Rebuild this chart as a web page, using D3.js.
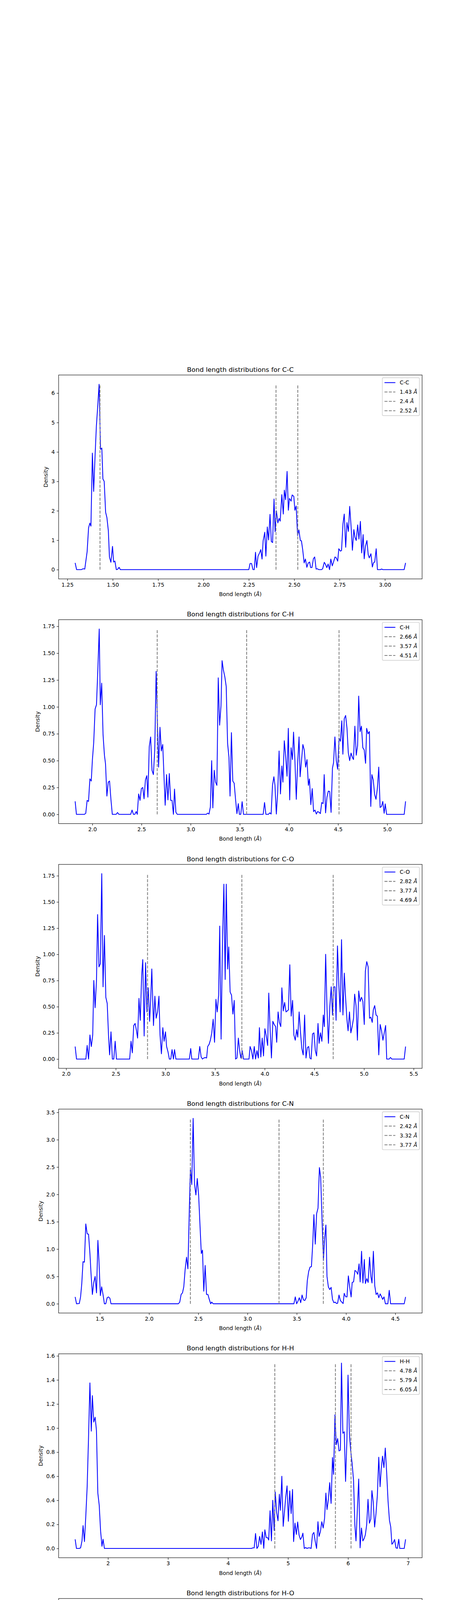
<!DOCTYPE html>
<html>
<head>
<meta charset="utf-8">
<script src="https://cdn.jsdelivr.net/npm/d3@7"></script>
<style>
  html, body { margin: 0; padding: 0; background: #fff; width: 1200px; height: 8000px; overflow: hidden; }
  svg { display: block; }
  text { font-family: "DejaVu Sans", sans-serif; }
</style>
</head>
<body>
<svg id="fig" width="1200" height="8000" viewBox="0 0 1200 8000"></svg>
<script>
// pair names and the reference distances drawn as dashed lines
const pairs = ["C-C", "C-H", "C-O", "C-N", "H-H", "H-O", "H-N", "O-O", "O-N", "N-N"];
const refLengths = [
  [1.43, 2.4, 2.52], [2.66, 3.57, 4.51], [2.82, 3.77, 4.69], [2.42, 3.32, 3.77], [4.78, 5.79, 6.05],
  [3.54, 4.28, 6.65], [2.58, 4.23, 5.69], [4.96, 6.09, 6.46], [2.66, 4.4, 5.94], [2.91, 4.79, 4.98]
];
// tick spacing / label format per panel (matplotlib auto ticks)
const xTickStep = [0.25, 0.5, 0.5, 0.5, 1, 1, 1, 1, 1, 0.5];
const xTickFmt = [".2f", ".1f", ".1f", ".1f", "d", "d", "d", "d", "d", ".1f"];
const yTickStep = [1, 0.25, 0.25, 0.5, 0.2, 0.2, 0.5, 0.5, 0.5, 0.5];
const yTickFmt = ["d", ".2f", ".2f", ".1f", ".1f", ".1f", ".1f", ".1f", ".1f", ".1f"];

// density curves, [bond length, density]
const ccData = [[1.293,0.23],[1.301,0],[1.327,0],[1.336,0.03],[1.346,0.02],[1.359,0.61],[1.367,1.42],[1.374,1.58],[1.380,1.48],[1.388,3.96],[1.395,2.66],[1.403,3.90],[1.410,4.88],[1.418,5.61],[1.425,6.30],[1.433,4.09],[1.440,4.13],[1.446,3.08],[1.453,3.00],[1.461,1.95],[1.468,1.77],[1.476,1.32],[1.482,0.43],[1.490,0.25],[1.499,0.79],[1.505,0.26],[1.512,0.29],[1.520,0],[1.527,0.01],[1.535,0.08],[1.542,0],[2.250,0],[2.257,0.21],[2.265,0.21],[2.273,0],[2.280,0],[2.287,0.59],[2.293,0.07],[2.301,0.46],[2.310,0.58],[2.316,0.68],[2.323,0.36],[2.329,0.98],[2.338,1.27],[2.344,0.46],[2.352,1.45],[2.359,1.01],[2.367,1.88],[2.374,0.96],[2.381,0.92],[2.389,2.40],[2.395,1.29],[2.402,2.00],[2.410,1.59],[2.417,1.74],[2.423,1.65],[2.432,2.55],[2.440,1.89],[2.446,2.70],[2.453,2.38],[2.461,3.34],[2.468,2.02],[2.474,2.42],[2.483,2.33],[2.489,2.54],[2.498,2.49],[2.504,2.02],[2.511,2.16],[2.519,1.16],[2.526,1.35],[2.534,0.99],[2.540,0.98],[2.547,0.68],[2.555,0.23],[2.562,0.36],[2.570,0.08],[2.577,0.22],[2.585,0.26],[2.591,0.07],[2.598,0.07],[2.606,0.37],[2.613,0.43],[2.621,0.02],[2.628,0.03],[2.636,0],[2.651,0],[2.657,0.03],[2.666,0.25],[2.672,0.19],[2.680,0.07],[2.687,0.19],[2.695,0],[2.702,0.36],[2.710,0.13],[2.717,0.26],[2.725,0.43],[2.732,0.40],[2.740,0.29],[2.746,0.71],[2.755,0.63],[2.761,0.65],[2.769,1.56],[2.776,1.89],[2.784,0.76],[2.791,1.60],[2.799,1.30],[2.806,2.15],[2.814,1.44],[2.821,0.66],[2.829,1.36],[2.835,1.10],[2.842,0.99],[2.850,1.52],[2.857,1.04],[2.865,1.64],[2.872,0.57],[2.880,1.19],[2.886,0.37],[2.893,0.80],[2.901,0.99],[2.908,0.51],[2.914,0.40],[2.923,0.54],[2.931,0.09],[2.937,0.23],[2.944,0.26],[2.952,0.71],[2.959,0],[2.975,0],[2.982,0.02],[2.989,0],[3.106,0],[3.114,0.23]];

const chData = [[1.825,0.121],[1.838,0],[1.919,0],[1.933,0.01],[1.947,0.13],[1.961,0.12],[1.975,0.33],[1.989,0.31],[2.000,0.50],[2.014,0.67],[2.028,0.98],[2.042,1.02],[2.056,1.35],[2.070,1.725],[2.081,1.02],[2.095,1.22],[2.109,0.74],[2.123,0.55],[2.134,0.47],[2.148,0.17],[2.162,0.30],[2.175,0.31],[2.189,0.14],[2.203,0],[2.242,0],[2.256,0.017],[2.270,0],[2.390,0],[2.404,0.04],[2.418,0],[2.432,0],[2.446,0.026],[2.457,0],[2.471,0.19],[2.485,0.13],[2.499,0.24],[2.513,0.25],[2.526,0.145],[2.540,0.32],[2.554,0.36],[2.565,0.16],[2.579,0.63],[2.593,0.72],[2.607,0.41],[2.621,0.37],[2.635,0.60],[2.649,1.33],[2.663,0.82],[2.674,0.44],[2.688,0.81],[2.702,0.59],[2.716,0.65],[2.730,0.33],[2.741,0.085],[2.755,0.37],[2.769,0.135],[2.783,0.38],[2.797,0.13],[2.811,0.13],[2.825,0],[2.836,0.235],[2.850,0.02],[2.864,0],[3.159,0],[3.173,0.011],[3.187,0.003],[3.201,0.07],[3.214,0.50],[3.226,0.06],[3.240,0.41],[3.253,0.30],[3.267,0.27],[3.281,1.27],[3.295,0.83],[3.309,1.01],[3.320,1.43],[3.334,1.34],[3.348,1.28],[3.362,1.19],[3.376,0.66],[3.390,0.53],[3.401,0.17],[3.415,0.76],[3.429,0.31],[3.443,0.29],[3.457,0.14],[3.471,0.007],[3.485,0.10],[3.496,0],[3.510,0],[3.524,0.118],[3.538,0],[3.738,0],[3.752,0.11],[3.766,0],[3.791,0],[3.805,0.014],[3.819,0.003],[3.833,0.27],[3.847,0.35],[3.858,0.27],[3.872,0.003],[3.886,0.21],[3.900,0.59],[3.914,0.19],[3.928,0.45],[3.939,0.30],[3.953,0.685],[3.967,0.54],[3.981,0.355],[3.994,0.80],[4.008,0.135],[4.022,0.62],[4.036,0.51],[4.047,0.765],[4.061,0.50],[4.075,0.14],[4.089,0.48],[4.103,0.72],[4.114,0.35],[4.128,0.50],[4.142,0.65],[4.156,0.60],[4.170,0.44],[4.184,0.51],[4.198,0.27],[4.209,0.33],[4.223,0.09],[4.237,0.24],[4.251,0.026],[4.265,0.04],[4.279,0.003],[4.292,0.026],[4.306,0.02],[4.320,0.007],[4.334,0.11],[4.348,0.10],[4.359,0.37],[4.373,0.014],[4.387,0.16],[4.401,0.216],[4.415,0.213],[4.429,0.018],[4.443,0.43],[4.454,0.48],[4.468,0.72],[4.482,0.50],[4.496,0.42],[4.510,0.71],[4.524,0.68],[4.538,0.87],[4.549,0.56],[4.563,0.89],[4.577,0.92],[4.591,0.80],[4.604,0.575],[4.618,0.50],[4.632,0.57],[4.646,0.53],[4.657,0.51],[4.671,0.82],[4.685,0.55],[4.699,0.64],[4.710,1.10],[4.724,0.77],[4.738,0.82],[4.752,0.62],[4.766,0.60],[4.780,0.475],[4.791,0.80],[4.805,0.75],[4.819,0.77],[4.833,0.074],[4.844,0.37],[4.858,0.32],[4.872,0.185],[4.886,0.14],[4.900,0.24],[4.914,0.44],[4.928,0.064],[4.942,0.074],[4.955,0.12],[4.969,0.01],[4.980,0.097],[4.994,0],[5.173,0],[5.187,0.121]];

const coData = [[2.091,0.12],[2.105,0],[2.199,0],[2.212,0.13],[2.226,0],[2.240,0.23],[2.254,0.12],[2.268,0.23],[2.279,0.75],[2.292,0.49],[2.306,0.75],[2.317,1.38],[2.331,0.88],[2.345,0.91],[2.359,1.77],[2.372,0.69],[2.386,1.18],[2.400,0.59],[2.414,0.53],[2.427,0.23],[2.438,0.04],[2.452,0.26],[2.466,0],[2.480,0],[2.494,0.17],[2.507,0],[2.640,0],[2.654,0.17],[2.667,0.06],[2.681,0.32],[2.695,0.34],[2.709,0.27],[2.720,0.20],[2.734,0.58],[2.747,0.37],[2.761,0.80],[2.772,0.95],[2.786,0.22],[2.800,0.92],[2.814,0.45],[2.827,0.68],[2.841,0.36],[2.852,0.57],[2.863,0.86],[2.880,0.32],[2.894,0.60],[2.907,0.39],[2.921,0.45],[2.935,0.60],[2.946,0.23],[2.960,0.05],[2.974,0.30],[2.987,0.17],[3.001,0.26],[3.012,0.12],[3.026,0.07],[3.040,0],[3.054,0],[3.067,0.09],[3.081,0],[3.092,0.09],[3.106,0],[3.241,0],[3.255,0.10],[3.266,0],[3.332,0],[3.346,0.12],[3.360,0.02],[3.373,0],[3.387,0.01],[3.401,0.015],[3.415,0.01],[3.426,0.12],[3.440,0.14],[3.453,0.18],[3.467,0.25],[3.481,0.38],[3.495,0.16],[3.509,0.57],[3.522,0.45],[3.536,0.61],[3.547,1.27],[3.561,0.19],[3.575,1.12],[3.589,1.67],[3.602,0.76],[3.613,1.67],[3.627,0.86],[3.638,1.07],[3.652,0.64],[3.666,0.61],[3.680,0.43],[3.693,0.56],[3.707,0],[3.721,0.01],[3.735,0.20],[3.748,0.08],[3.760,0.01],[3.773,0.08],[3.787,0],[3.842,0],[3.853,0.12],[3.867,0.08],[3.881,0],[3.895,0.12],[3.908,0],[3.922,0.08],[3.936,0.01],[3.947,0.30],[3.961,0.02],[3.975,0.20],[3.988,0.03],[4.002,0.29],[4.016,0.22],[4.030,0.13],[4.041,0.63],[4.055,0.28],[4.068,0.01],[4.082,0.36],[4.096,0.33],[4.110,0.31],[4.121,0.16],[4.135,0.45],[4.148,0.35],[4.162,0.31],[4.173,0.68],[4.187,0.46],[4.201,0.54],[4.215,0.45],[4.228,0.46],[4.239,0.47],[4.253,0.90],[4.267,0.41],[4.281,0.56],[4.294,0.23],[4.308,0.18],[4.322,0.28],[4.333,0.21],[4.347,0.45],[4.361,0.25],[4.374,0.10],[4.388,0.04],[4.402,0.42],[4.416,0.01],[4.430,0.11],[4.443,0.12],[4.455,0.01],[4.468,0],[4.482,0.24],[4.496,0.25],[4.510,0.08],[4.523,0.03],[4.537,0.34],[4.548,0.15],[4.562,0.25],[4.576,0.17],[4.590,0.42],[4.601,0.31],[4.614,1.00],[4.628,0.47],[4.642,0.15],[4.656,0.50],[4.670,0.69],[4.683,0.42],[4.694,0.69],[4.708,0.69],[4.719,0.37],[4.733,1.08],[4.747,0.70],[4.760,0.45],[4.774,1.14],[4.788,0.42],[4.802,0.82],[4.815,0.58],[4.829,0.37],[4.840,0.27],[4.854,0.45],[4.868,0.25],[4.881,0.31],[4.895,0.39],[4.906,0.62],[4.920,0.51],[4.934,0.18],[4.947,0.65],[4.961,0.55],[4.975,0.59],[4.989,0.55],[5.003,0.33],[5.014,0.84],[5.028,0.93],[5.042,0.88],[5.056,0.39],[5.069,0.40],[5.083,0.35],[5.094,0.47],[5.108,0.51],[5.122,0.42],[5.135,0.41],[5.149,0.04],[5.163,0.33],[5.177,0.27],[5.191,0.18],[5.204,0.25],[5.218,0.32],[5.229,0],[5.254,0],[5.267,0.015],[5.281,0],[5.405,0],[5.419,0.12]];

const cnData = [[1.250,0.125],[1.264,0],[1.292,0.005],[1.305,0.125],[1.317,0.36],[1.330,0.77],[1.344,0.76],[1.358,1.46],[1.372,1.28],[1.386,1.27],[1.400,0.92],[1.411,0.56],[1.425,0.17],[1.439,0.39],[1.453,0.50],[1.467,0.20],[1.481,1.16],[1.492,0.78],[1.506,0.15],[1.519,0.31],[1.533,0.17],[1.547,0],[1.561,0],[1.575,0.11],[1.589,0.125],[1.603,0.10],[1.614,0],[2.298,0],[2.312,0.03],[2.326,0.17],[2.340,0.20],[2.353,0.31],[2.367,0.63],[2.381,0.85],[2.395,0.64],[2.409,1.70],[2.420,2.48],[2.434,2.18],[2.448,3.39],[2.462,2.19],[2.476,1.99],[2.490,2.29],[2.504,1.98],[2.518,1.42],[2.531,0.92],[2.543,0.98],[2.556,0.23],[2.570,0.70],[2.584,0.17],[2.598,0.17],[2.612,0.08],[2.626,0],[2.637,0.03],[2.651,0],[3.471,0],[3.485,0.125],[3.499,0],[3.513,0.05],[3.526,0.11],[3.540,0.02],[3.554,0.16],[3.568,0.07],[3.582,0.06],[3.596,0.11],[3.607,0.42],[3.621,0.59],[3.635,0.67],[3.649,0.68],[3.663,1.12],[3.674,1.63],[3.688,1.09],[3.702,1.65],[3.716,1.75],[3.730,2.49],[3.743,2.31],[3.757,1.53],[3.771,0.79],[3.782,1.17],[3.796,1.44],[3.807,0.50],[3.821,0.31],[3.835,0.26],[3.849,0.30],[3.863,0.08],[3.877,0.02],[3.890,0.03],[3.904,0.005],[3.915,0.01],[3.929,0.16],[3.943,0.06],[3.957,0.03],[3.971,0.005],[3.982,0.19],[3.996,0.13],[4.010,0.125],[4.024,0.51],[4.038,0.30],[4.052,0.125],[4.063,0.39],[4.077,0.40],[4.091,0.61],[4.105,0.59],[4.119,0.54],[4.133,0.73],[4.144,0.40],[4.158,0.96],[4.172,0.38],[4.186,0.81],[4.197,0.37],[4.211,0.46],[4.225,0.39],[4.239,0.85],[4.253,0.50],[4.264,0.38],[4.278,0.96],[4.292,0.33],[4.306,0.17],[4.320,0.20],[4.333,0.11],[4.347,0.18],[4.361,0.13],[4.372,0.08],[4.386,0.125],[4.400,0],[4.425,0],[4.439,0.245],[4.453,0],[4.591,0],[4.605,0.125]];

const hhData = [[1.453,0.076],[1.475,0],[1.521,0],[1.544,0.005],[1.567,0.063],[1.585,0.19],[1.608,0.057],[1.630,0.265],[1.653,0.51],[1.676,0.92],[1.699,1.375],[1.722,0.975],[1.740,1.27],[1.763,1.05],[1.786,1.09],[1.808,0.98],[1.831,0.46],[1.854,0.36],[1.877,0.145],[1.900,0.018],[1.918,0.076],[1.941,0],[4.391,0],[4.413,0.005],[4.436,0.005],[4.459,0.124],[4.482,0],[4.505,0.018],[4.527,0.10],[4.550,0.034],[4.573,0.137],[4.596,0.001],[4.614,0.155],[4.637,0.09],[4.660,0.09],[4.678,0.07],[4.701,0.313],[4.724,0.063],[4.746,0.40],[4.769,0.15],[4.787,0.47],[4.810,0.30],[4.833,0.23],[4.856,0.45],[4.874,0.317],[4.897,0.60],[4.920,0.184],[4.943,0.317],[4.961,0.425],[4.984,0.52],[5.006,0.226],[5.029,0.478],[5.052,0.29],[5.075,0.49],[5.093,0.057],[5.116,0.21],[5.139,0.117],[5.161,0.22],[5.184,0.112],[5.207,0.074],[5.230,0.095],[5.248,0.127],[5.271,0],[5.294,0.008],[5.317,0],[5.339,0.005],[5.362,0.005],[5.385,0],[5.408,0.117],[5.431,0.133],[5.453,0.06],[5.476,0],[5.499,0.222],[5.517,0.10],[5.540,0.14],[5.563,0.222],[5.586,0.17],[5.609,0.25],[5.631,0.46],[5.650,0.323],[5.672,0.405],[5.695,0.547],[5.718,0.374],[5.741,0.755],[5.759,0.615],[5.782,1.11],[5.804,0.862],[5.827,0.913],[5.850,0.81],[5.873,0.817],[5.891,1.54],[5.914,0.957],[5.937,0.969],[5.959,0.557],[5.982,0.913],[6.000,1.44],[6.023,0.945],[6.046,0.805],[6.069,0.703],[6.092,0.564],[6.114,0.193],[6.133,0.063],[6.155,0.317],[6.178,0.577],[6.201,0.005],[6.224,0.17],[6.247,0.063],[6.269,0.082],[6.288,0.112],[6.311,0.197],[6.333,0.408],[6.356,0.21],[6.379,0.243],[6.398,0.48],[6.420,0.387],[6.443,0.178],[6.466,0.29],[6.489,0.444],[6.512,0.758],[6.534,0.513],[6.553,0.657],[6.575,0.767],[6.598,0.672],[6.621,0.834],[6.644,0.628],[6.667,0.393],[6.690,0.235],[6.712,0.178],[6.731,0.035],[6.753,0.048],[6.776,0.074],[6.799,0.005],[6.822,0.001],[6.845,0.076],[6.863,0],[6.936,0],[6.959,0.076]];

const hoData = [[1.355,0.069],[1.380,0],[1.553,0],[1.578,0.046],[1.604,0.039],[1.629,0.015],[1.654,0.002],[1.680,0.053],[1.705,0],[1.726,0.131],[1.751,0.166],[1.776,0.172],[1.802,0.087],[1.827,0.172],[1.853,0.02],[1.873,0.174],[1.898,0.43],[1.924,0.34],[1.949,0.226],[1.975,0.40],[2.000,0.672],[2.025,0.41],[2.051,0.313],[2.071,0.359],[2.097,0.328],[2.122,0.21],[2.147,0.369],[2.173,0.094],[2.198,0.187],[2.219,0.084],[2.244,0.328],[2.269,0.108],[2.295,0.152],[2.315,0.09],[2.340,0.02],[2.366,0.138],[2.391,0.067],[2.417,0.062],[2.442,0.005],[2.467,0.002],[2.488,0],[2.513,0.056],[2.539,0],[2.762,0],[2.782,0.01],[2.808,0],[2.955,0],[2.981,0.051],[3.006,0],[3.108,0],[3.133,0.01],[3.159,0.012],[3.184,0],[3.204,0],[3.230,0.041],[3.255,0],[3.280,0.062],[3.306,0.144],[3.326,0.183],[3.352,0.121],[3.377,0.195],[3.402,0.436],[3.428,0.39],[3.453,0.364],[3.474,0.34],[3.499,0.585],[3.524,0.597],[3.550,0.661],[3.575,0.687],[3.596,0.613],[3.621,0.933],[3.646,1.246],[3.672,0.856],[3.697,0.749],[3.723,0.605],[3.743,0.41],[3.768,0.426],[3.794,0.224],[3.819,0.39],[3.845,0.40],[3.870,0.385],[3.890,0.34],[3.916,0.224],[3.941,0.236],[3.967,0.267],[3.992,0.072],[4.012,0.08],[4.038,0.051],[4.063,0.015],[4.088,0.002],[4.114,0.053],[4.139,0],[4.429,0],[4.454,0.041],[4.480,0.01],[4.505,0],[4.551,0],[4.576,0.015],[4.602,0],[4.627,0.002],[4.652,0.056],[4.678,0.005],[4.703,0.005],[4.729,0.074],[4.754,0.015],[4.779,0.002],[4.800,0.087],[4.825,0.082],[4.850,0.176],[4.876,0.234],[4.901,0.415],[4.927,0.256],[4.952,0.164],[4.977,0.174],[5.003,0.289],[5.023,0.369],[5.049,0.646],[5.074,0.482],[5.100,0.326],[5.125,0.523],[5.150,0.41],[5.171,0.492],[5.196,0.328],[5.221,0.289],[5.247,0.34],[5.272,0.105],[5.297,0.067],[5.323,0],[5.343,0.062],[5.369,0],[5.923,0],[5.948,0.005],[5.974,0],[6.024,0],[6.050,0.084],[6.075,0],[6.126,0.002],[6.151,0.01],[6.177,0.125],[6.202,0.002],[6.228,0.067],[6.253,0.072],[6.278,0.002],[6.299,0.01],[6.324,0.231],[6.350,0.169],[6.375,0.118],[6.400,0.111],[6.426,0.22],[6.451,0.128],[6.476,0.121],[6.497,0.212],[6.522,0.115],[6.547,0.461],[6.573,0.308],[6.598,0.381],[6.623,0.248],[6.644,0.359],[6.669,0.415],[6.695,0.648],[6.720,0.484],[6.745,0.474],[6.771,0.71],[6.796,0.40],[6.821,0.569],[6.847,0.508],[6.867,0.215],[6.893,0.569],[6.918,0.508],[6.939,0.769],[6.964,0.503],[6.989,0.61],[7.015,0.564],[7.041,0.59],[7.061,0.195],[7.086,0.21],[7.112,0.347],[7.137,0.123],[7.163,0.092],[7.188,0.082],[7.213,0.072],[7.234,0.012],[7.259,0.002],[7.284,0],[7.305,0.064],[7.330,0],[7.462,0],[7.488,0.069]];

const hnData = [[0.890,0.074],[0.914,0],[0.938,0.009],[0.962,0.434],[0.986,0.868],[1.005,2.244],[1.029,2.22],[1.053,1.20],[1.076,0.434],[1.100,0.111],[1.124,0],[2.175,0],[2.199,0.009],[2.223,0.022],[2.251,0.078],[2.275,0.015],[2.299,0.004],[2.323,0.028],[2.347,0.065],[2.371,0.107],[2.394,0.133],[2.418,0.281],[2.442,0.157],[2.461,0.194],[2.485,0.447],[2.509,0.428],[2.533,0.753],[2.557,0.484],[2.581,0.384],[2.605,0.539],[2.628,0.517],[2.652,0.545],[2.676,0.452],[2.700,0.443],[2.724,0.225],[2.743,0.323],[2.767,0.065],[2.791,0.203],[2.815,0.111],[2.839,0.052],[2.862,0],[2.886,0.004],[2.948,0],[2.972,0.107],[2.996,0],[3.569,0],[3.593,0.018],[3.617,0.059],[3.641,0],[3.689,0],[3.713,0.111],[3.736,0.355],[3.760,0.262],[3.784,0.249],[3.808,0.299],[3.827,0.927],[3.851,0.674],[3.875,0.619],[3.899,0.951],[3.923,0.988],[3.942,0.329],[3.966,0.637],[3.989,0.388],[4.013,0.133],[4.037,0.268],[4.061,0.166],[4.085,0.074],[4.109,0.037],[4.133,0],[4.419,0],[4.443,0.074],[4.467,0.004],[4.491,0.018],[4.515,0.083],[4.539,0.009],[4.563,0],[4.586,0],[4.610,0.009],[4.634,0.033],[4.658,0.083],[4.682,0.07],[4.706,0.148],[4.730,0.052],[4.754,0.018],[4.778,0.185],[4.797,0.268],[4.820,0.632],[4.844,0.231],[4.868,0.259],[4.892,0.536],[4.916,0.332],[4.940,0.281],[4.964,0.249],[4.983,0.369],[5.007,0.373],[5.031,0.646],[5.054,0.332],[5.078,0.428],[5.102,0.388],[5.126,0.286],[5.145,0.037],[5.169,0.236],[5.193,0.07],[5.217,0.166],[5.241,0.009],[5.265,0.046],[5.289,0.004],[5.312,0.037],[5.336,0.065],[5.355,0.004],[5.379,0.139],[5.403,0.092],[5.427,0.009],[5.451,0.018],[5.475,0.166],[5.499,0.203],[5.522,0.12],[5.546,0.277],[5.565,0.342],[5.589,0.231],[5.613,0.388],[5.637,0.465],[5.656,0.259],[5.680,0.776],[5.704,0.563],[5.728,0.72],[5.747,0.872],[5.771,0.735],[5.795,0.587],[5.819,0.244],[5.842,0.17],[5.861,0.443],[5.885,0.181],[5.909,0.203],[5.933,0.207],[5.952,0.188],[5.976,0.711],[6.000,0.157],[6.024,0.277],[6.048,0.563],[6.072,0.536],[6.096,0.447],[6.120,0.434],[6.143,0.373],[6.167,0.373],[6.186,0.536],[6.210,0.273],[6.234,0.332],[6.258,0.379],[6.282,0.299],[6.306,0.157],[6.330,0.268],[6.354,0.236],[6.377,0.107],[6.401,0.052],[6.425,0.046],[6.444,0],[6.468,0.055],[6.492,0],[6.630,0],[6.654,0.074]];

const ooData = [[2.027,0.082],[2.049,0],[2.072,0.088],[2.094,0],[2.117,0.314],[2.135,0.764],[2.157,2.064],[2.179,1.376],[2.202,1.821],[2.224,1.206],[2.247,0.543],[2.269,0.246],[2.291,0],[4.130,0],[4.152,0.024],[4.175,0],[4.197,0],[4.220,0.01],[4.242,0],[4.377,0.003],[4.395,0.003],[4.417,0.144],[4.439,0.068],[4.462,0.059],[4.484,0.042],[4.507,0.119],[4.529,0],[4.552,0.008],[4.570,0.068],[4.592,0.008],[4.614,0.149],[4.637,0.025],[4.659,0.085],[4.682,0.173],[4.704,0.048],[4.722,0.187],[4.744,0.003],[4.767,0.085],[4.789,0.099],[4.812,0.127],[4.834,0.034],[4.857,0.088],[4.879,0.02],[4.897,0.183],[4.919,0.076],[4.942,0.255],[4.964,0.187],[4.987,0.229],[5.009,0.258],[5.031,0.323],[5.049,0.272],[5.072,0.581],[5.094,0.615],[5.117,0.577],[5.139,0.382],[5.157,0.207],[5.179,0.459],[5.202,0.331],[5.224,0.246],[5.247,0.462],[5.265,0.302],[5.287,0.377],[5.309,0.374],[5.332,0.425],[5.354,0.139],[5.377,0.119],[5.395,0.224],[5.417,0.221],[5.439,0.331],[5.462,0],[5.484,0.071],[5.507,0.014],[5.529,0.2],[5.547,0.085],[5.570,0.071],[5.592,0.065],[5.614,0.102],[5.637,0.183],[5.659,0.082],[5.682,0.054],[5.704,0.217],[5.722,0.195],[5.744,0.136],[5.767,0.182],[5.789,0.085],[5.812,0.275],[5.834,0.212],[5.852,0.306],[5.874,0.2],[5.897,0.224],[5.919,0.173],[5.942,0.2],[5.964,0.19],[5.982,0.115],[6.004,0.348],[6.022,0.314],[6.045,0.768],[6.067,0.263],[6.090,0.527],[6.112,0.543],[6.135,0.535],[6.152,0.357],[6.175,0.357],[6.197,0.56],[6.220,0.611],[6.238,0.977],[6.260,1.129],[6.283,0.683],[6.305,0.756],[6.327,0.696],[6.350,0.569],[6.372,0.926],[6.390,0.62],[6.413,1.039],[6.435,0.357],[6.457,0.608],[6.480,0.543],[6.498,0.391],[6.520,0.357],[6.543,0.323],[6.565,0.272],[6.587,0.119],[6.610,0.119],[6.632,0.263],[6.655,0.275],[6.677,0.255],[6.695,0.178],[6.717,0.093],[6.740,0.2],[6.762,0.178],[6.785,0.314],[6.807,0.292],[6.825,0.543],[6.848,0.331],[6.870,0.442],[6.892,0.348],[6.910,0.611],[6.933,0.501],[6.955,0.425],[6.978,0.255],[7.000,0.581],[7.022,0.365],[7.045,0.348],[7.067,0.343],[7.085,0.144],[7.108,0.455],[7.130,0.11],[7.152,0.28],[7.175,0.255],[7.193,0.059],[7.215,0.17],[7.238,0.025],[7.260,0],[7.417,0],[7.439,0.082]];

const onData = [[1.154,0.073],[1.178,0],[1.201,0.419],[1.225,1.473],[1.248,2.753],[1.271,2.402],[1.295,1.02],[1.318,0.249],[1.342,0.063],[1.365,0],[2.352,0],[2.376,0.023],[2.399,0.063],[2.423,0],[2.446,0.231],[2.469,0.102],[2.493,0.381],[2.516,0.403],[2.540,0.05],[2.563,0.17],[2.586,0.222],[2.605,0.725],[2.628,0.453],[2.652,0.442],[2.675,0.623],[2.699,0.548],[2.722,0.707],[2.745,0.159],[2.769,0.317],[2.792,0.136],[2.816,0.306],[2.834,0.29],[2.858,0.068],[2.881,0.102],[2.905,0.147],[2.928,0.118],[2.951,0.005],[2.975,0.034],[2.998,0.027],[3.022,0.018],[3.040,0.005],[3.064,0.131],[3.087,0.005],[3.110,0.063],[3.134,0.005],[3.227,0],[3.246,0.011],[3.270,0],[3.419,0],[3.443,0.057],[3.466,0],[3.625,0],[3.649,0.045],[3.672,0.073],[3.695,0.005],[3.719,0.109],[3.742,0.005],[3.766,0.068],[3.789,0.063],[3.808,0.005],[3.831,0.073],[3.855,0.193],[3.878,0.079],[3.901,0.113],[3.925,0.267],[3.948,0.186],[3.971,0.329],[3.995,0.306],[4.014,0.306],[4.037,0.453],[4.060,0.578],[4.084,0.453],[4.107,0.34],[4.126,0.736],[4.149,0.578],[4.173,0.426],[4.196,0.533],[4.219,0.403],[4.243,0.374],[4.266,0.344],[4.285,0.045],[4.308,0.079],[4.332,0.018],[4.355,0.005],[4.379,0.057],[4.402,0],[4.622,0],[4.645,0.136],[4.669,0],[4.692,0],[4.716,0.073],[4.739,0.14],[4.762,0.118],[4.786,0.005],[4.809,0.034],[4.832,0.102],[4.856,0.118],[4.879,0.109],[4.903,0.118],[4.926,0.131],[4.945,0.227],[4.968,0.118],[4.992,0.299],[5.015,0.34],[5.034,0.453],[5.057,0.193],[5.080,0.283],[5.104,0.34],[5.122,0.351],[5.146,0.702],[5.169,0.544],[5.192,0.431],[5.211,0.208],[5.235,0.548],[5.258,0.344],[5.281,0.091],[5.305,0.159],[5.323,0.276],[5.347,0.17],[5.370,0.073],[5.393,0.034],[5.417,0.329],[5.441,0.023],[5.464,0.023],[5.487,0.068],[5.506,0],[5.530,0.045],[5.553,0.073],[5.576,0.057],[5.595,0],[5.619,0.102],[5.642,0.068],[5.665,0.073],[5.689,0.113],[5.712,0.045],[5.735,0.063],[5.759,0.181],[5.782,0.272],[5.806,0.408],[5.825,0.249],[5.848,0.306],[5.871,0.272],[5.895,0.517],[5.913,0.431],[5.937,0.612],[5.960,0.68],[5.984,0.39],[6.003,0.662],[6.026,0.533],[6.049,0.736],[6.073,0.594],[6.096,0.707],[6.115,0.544],[6.138,0.548],[6.161,0.344],[6.185,0.215],[6.208,0.34],[6.232,0.177],[6.255,0.17],[6.278,0.254],[6.297,0.476],[6.321,0.77],[6.344,0.306],[6.367,0.51],[6.391,0.465],[6.414,0.458],[6.438,0.594],[6.461,0.199],[6.484,0.329],[6.508,0.163],[6.527,0.011],[6.550,0],[6.779,0],[6.803,0.073]];

const nnData = [[2.491,0.119],[2.506,0],[2.575,0],[2.589,0.011],[2.603,0],[2.647,0],[2.661,0.011],[2.672,0.004],[2.687,0.152],[2.701,0.217],[2.716,0.169],[2.730,0.358],[2.744,0.51],[2.756,0.473],[2.770,0.694],[2.784,1.399],[2.799,0.391],[2.813,1.616],[2.828,1.736],[2.842,1.573],[2.856,1.779],[2.868,2.181],[2.882,1.953],[2.897,2.636],[2.911,1.964],[2.925,2.239],[2.940,2.105],[2.954,1.822],[2.968,0.77],[2.980,1.58],[2.994,0.651],[3.009,0.343],[3.023,0.499],[3.034,0.629],[3.049,0.152],[3.063,0.243],[3.078,0.048],[3.092,0.061],[3.106,0.048],[3.121,0],[3.135,0.004],[3.149,0.011],[3.161,0.033],[3.175,0],[4.468,0],[4.483,0.065],[4.497,0],[4.511,0],[4.526,0.119],[4.540,0],[4.555,0.022],[4.566,0.048],[4.580,0.119],[4.595,0.026],[4.609,0.13],[4.624,0.108],[4.635,0.135],[4.647,0.286],[4.661,0.64],[4.675,0.343],[4.690,0.33],[4.704,0.89],[4.718,0.347],[4.733,0.694],[4.747,0.742],[4.761,0.749],[4.776,1.052],[4.790,1.692],[4.802,1.768],[4.816,1.059],[4.830,1.302],[4.845,1.703],[4.856,1.866],[4.871,1.08],[4.885,1.757],[4.899,1.211],[4.914,0.95],[4.928,1.263],[4.943,1.128],[4.954,0.516],[4.968,0.872],[4.983,0.738],[4.997,0.677],[5.011,0.716],[5.023,0.597],[5.037,0.191],[5.052,0.466],[5.066,0.156],[5.080,0.13],[5.095,0.069],[5.109,0.217],[5.121,0.451],[5.135,0.113],[5.149,0.017],[5.164,0.004],[5.178,0.119],[5.193,0.033],[5.207,0.004],[5.221,0.104],[5.233,0.104],[5.247,0.022],[5.261,0.011],[5.276,0.119],[5.290,0.076],[5.305,0.054],[5.319,0.25],[5.333,0.239],[5.345,0.022],[5.359,0.33],[5.374,0.104],[5.388,0.082],[5.400,0.126],[5.414,0.347],[5.428,0.174],[5.443,0.113],[5.454,0.581],[5.468,0.25],[5.483,0.365],[5.497,0.749],[5.511,0.169],[5.526,0.38],[5.537,0.434],[5.552,0.423],[5.566,1.102],[5.580,0.33],[5.595,0.662],[5.606,0.668],[5.621,0.911],[5.635,0.386],[5.649,0.738],[5.664,0.401],[5.678,0.835],[5.690,0.423],[5.704,0.408],[5.718,0.373],[5.733,0.113],[5.747,0.417],[5.761,0.191],[5.776,0.098],[5.790,0.104],[5.805,0.004],[5.819,0.022],[5.833,0],[5.948,0],[5.960,0.119]];

const series = [ccData, chData, coData, cnData, hhData, hoData, hnData, ooData, onData, nnData];

const svg = d3.select("#fig");
const pt = 100 / 72;            // matplotlib points -> px at 100 dpi
const fs = 10 * pt;             // tick / label font size
const tick = 3.5 * pt;
const left = 150, right = 1080, top0 = 960;
const cellH = 6160 / 11.8, gap = cellH * 0.2;
const dash = `${3.7 * 1.5 * pt},${1.6 * 1.5 * pt}`;

svg.append("rect").attr("width", 1200).attr("height", 8000).attr("fill", "#fff");

function ticksFor(domain, step) {
  const a = Math.ceil(domain[0] / step - 1e-9), b = Math.floor(domain[1] / step + 1e-9);
  return d3.range(a, b + 1).map(i => +(i * step).toFixed(6));
}

pairs.forEach((name, k) => {
  const data = series[k];
  const top = top0 + k * (cellH + gap), bottom = top + cellH;
  const [x0, x1] = d3.extent(data, d => d[0]);
  const yMax = d3.max(data, d => d[1]);
  const pad = 0.05 * (x1 - x0);
  const x = d3.scaleLinear().domain([x0 - pad, x1 + pad]).range([left, right]);
  const y = d3.scaleLinear().domain([-0.05 * yMax, 1.05 * yMax]).range([bottom, top]);
  const g = svg.append("g");

  // curve
  g.append("path").datum(data)
    .attr("fill", "none").attr("stroke", "#0000ff").attr("stroke-width", 1.5 * pt)
    .attr("stroke-linejoin", "round")
    .attr("d", d3.line().x(d => x(d[0])).y(d => y(d[1])));

  // reference distances
  g.selectAll(".ref").data(refLengths[k]).join("line")
    .attr("x1", d => x(d)).attr("x2", d => x(d))
    .attr("y1", y(0)).attr("y2", y(yMax))
    .attr("stroke", "#808080").attr("stroke-width", 1.5 * pt)
    .attr("stroke-dasharray", dash);

  // axes
  const gx = g.append("g").attr("transform", `translate(0,${bottom})`)
    .call(d3.axisBottom(x).tickValues(ticksFor(x.domain(), xTickStep[k]))
      .tickFormat(d3.format(xTickFmt[k])).tickSize(tick).tickPadding(tick));
  const gy = g.append("g").attr("transform", `translate(${left},0)`)
    .call(d3.axisLeft(y).tickValues(ticksFor(y.domain(), yTickStep[k]))
      .tickFormat(d3.format(yTickFmt[k])).tickSize(tick).tickPadding(tick));
  [gx, gy].forEach(a => {
    a.select(".domain").remove();
    a.attr("font-size", fs).attr("font-family", "DejaVu Sans");
    a.selectAll("line").attr("stroke", "#000").attr("stroke-width", 0.8 * pt);
    a.selectAll("text").attr("fill", "#000");
  });

  g.append("rect").attr("x", left).attr("y", top).attr("width", right - left).attr("height", cellH)
    .attr("fill", "none").attr("stroke", "#000").attr("stroke-width", 0.8 * pt);

  // title and labels
  g.append("text").attr("x", (left + right) / 2).attr("y", top - 6 * pt)
    .attr("text-anchor", "middle").attr("font-size", 12 * pt)
    .text(`Bond length distributions for ${name}`);

  const xl = g.append("text").attr("x", (left + right) / 2).attr("y", bottom + 44)
    .attr("text-anchor", "middle").attr("font-size", fs);
  xl.append("tspan").text("Bond length (");
  xl.append("tspan").attr("font-style", "italic").text("Å");
  xl.append("tspan").text(")");

  const maxW = d3.max(gy.selectAll("text").nodes(), n => n.getBBox().width);
  const yl = left - 2 * tick - maxW - 4 * pt - 0.236 * fs;
  g.append("text").attr("transform", `translate(${yl},${(top + bottom) / 2}) rotate(-90)`)
    .attr("text-anchor", "middle").attr("font-size", fs).text("Density");

  // legend
  const labels = [name, ...refLengths[k].map(String)];
  const lg = g.append("g");
  const rowGap = 24, bpad = 0.4 * fs, hLen = 2 * fs, hPad = 0.8 * fs;
  const texts = labels.map((lab, i) => {
    const t = lg.append("text").attr("font-size", fs).attr("y", i * rowGap + 5);
    t.append("tspan").text(lab);
    if (i > 0) { t.append("tspan").text(" "); t.append("tspan").attr("font-style", "italic").text("Å"); }
    return t;
  });
  const tw = d3.max(texts, t => t.node().getBBox().width);
  const lw = bpad + hLen + hPad + tw + bpad;
  const lh = 2 * bpad + 3 * rowGap + 14;
  const lx = right - 0.5 * fs - lw, ly = top + 0.5 * fs;
  lg.insert("rect", ":first-child").attr("x", 0).attr("y", 0).attr("width", lw).attr("height", lh)
    .attr("rx", 0.2 * fs).attr("fill", "#fff").attr("fill-opacity", 0.8)
    .attr("stroke", "#cccccc").attr("stroke-width", pt);
  lg.attr("transform", `translate(${lx},${ly})`);
  texts.forEach((t, i) => {
    const cy = bpad + 7 + i * rowGap;
    t.attr("x", bpad + hLen + hPad).attr("y", cy + 5);
    t.selectAll("tspan").attr("fill", "#000");
    lg.append("line").attr("x1", bpad).attr("x2", bpad + hLen).attr("y1", cy).attr("y2", cy)
      .attr("stroke", i === 0 ? "#0000ff" : "#808080").attr("stroke-width", 1.5 * pt)
      .attr("stroke-dasharray", i === 0 ? null : dash);
  });
});
</script>
</body>
</html>
